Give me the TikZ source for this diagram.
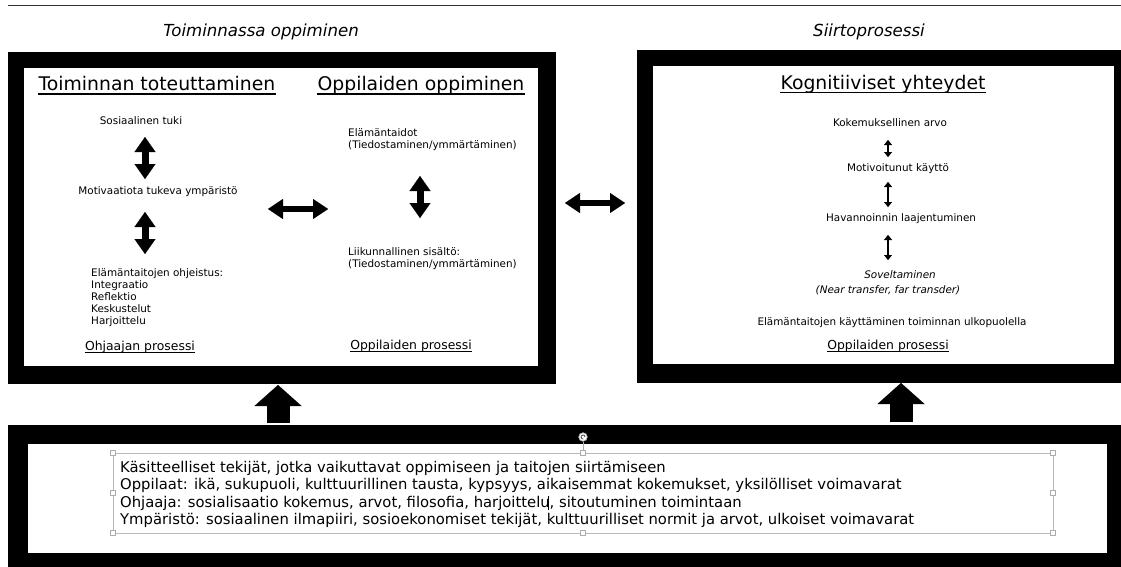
\documentclass[tikz,border=0pt]{standalone}
\usepackage{fontspec}
\setmainfont{DejaVu Sans}
\usetikzlibrary{arrows.meta}
\begin{document}
\begin{tikzpicture}[x=1pt,y=-1pt,
  outerbox/.style={fill=black,inner sep=0,outer sep=0,anchor=north west},
  innerbox/.style={fill=white,inner sep=0,outer sep=0,anchor=north west},
  hd/.style={font=\fontsize{18.8}{22}\selectfont,inner sep=0,anchor=base},
  smalltxt/.style={font=\fontsize{10.4}{12.2}\selectfont,inner sep=0},
  proctxt/.style={font=\fontsize{12.4}{15}\selectfont,inner sep=0,anchor=base},
  ttl/.style={font=\fontsize{16.6}{20}\selectfont\itshape,inner sep=0,anchor=base},
  bottxt/.style={font=\fontsize{14.8}{17.5}\selectfont,inner sep=0,align=left,anchor=north west},
  bigdbl/.style={line width=7pt,{Triangle[width=21pt,length=15pt,line width=0.1pt]}-{Triangle[width=21pt,length=15pt,line width=0.1pt]}},
  middbl/.style={line width=6pt,{Triangle[width=20pt,length=15pt,line width=0.1pt]}-{Triangle[width=20pt,length=15pt,line width=0.1pt]}},
  tinydbl/.style={line width=2.6pt,{Triangle[width=8pt,length=5pt,line width=0.1pt]}-{Triangle[width=8pt,length=5pt,line width=0.1pt]}},
  upblock/.style={line width=23pt,-{Triangle[width=47pt,length=21pt,line width=0.1pt]}},
  ulline/.style={line width=1.3pt},
  ullinesmall/.style={line width=0.9pt},
  handlebox/.style={draw=gray!65,fill=white,line width=0.6pt,minimum size=5pt,inner sep=0,outer sep=0},
]
\useasboundingbox (0,0) rectangle (1121,567);
\fill[white] (0,0) rectangle (1121,567);

% top rule
\draw[gray!40!black,line width=1pt] (8,6) -- (1121,6);

% titles
\node[ttl] (t1) at (261,37) {Toiminnassa oppiminen};
\node[ttl] (t2) at (869,37) {Siirtoprosessi};

% boxes
\node[outerbox,minimum width=548pt,minimum height=332pt] (Lout) at (8,52) {};
\node[innerbox,minimum width=514pt,minimum height=298pt] (Lin) at (24,68) {};
\node[outerbox,minimum width=500pt,minimum height=333pt] (Rout) at (637,50) {};
\node[innerbox,minimum width=461pt,minimum height=298pt] (Rin) at (653,66) {};
\node[outerbox,minimum width=1130pt,minimum height=160pt] (Bout) at (8,425) {};
\node[innerbox,minimum width=1079pt,minimum height=109pt] (Bin) at (28,444) {};

% headings
\node[hd] (h1) at (157,91) {Toiminnan toteuttaminen};
\node[hd] (h2) at (421,91) {Oppilaiden oppiminen};
\node[hd] (h3) at (883,89.5) {Kognitiiviset yhteydet};
\draw[ulline] ([yshift=-3pt]h1.base west) -- ([yshift=-3pt]h1.base east);
\draw[ulline] ([yshift=-3pt]h2.base west) -- ([yshift=-3pt]h2.base east);
\draw[ulline] ([yshift=-3pt]h3.base west) -- ([yshift=-3pt]h3.base east);

% left column
\node[smalltxt,anchor=base] (s1) at (141,124.5) {Sosiaalinen tuki};
\node[smalltxt,anchor=base] (s2) at (158,194) {Motivaatiota tukeva ympäristö};
\node[smalltxt,anchor=north west,align=left] (s3) at (91,268) {Elämäntaitojen ohjeistus:\\Integraatio\\Reflektio\\Keskustelut\\Harjoittelu};
\node[proctxt] (p1) at (140,350) {Ohjaajan prosessi};
\draw[ullinesmall] ([yshift=-2.5pt]p1.base west) -- ([yshift=-2.5pt]p1.base east);

% middle column
\node[smalltxt,anchor=north west,align=left] (m1) at (348,128) {Elämäntaidot\\(Tiedostaminen/ymmärtäminen)};
\node[smalltxt,anchor=north west,align=left] (m2) at (348,247) {Liikunnallinen sisältö:\\(Tiedostaminen/ymmärtäminen)};
\node[proctxt] (p2) at (411,349) {Oppilaiden prosessi};
\draw[ullinesmall] ([yshift=-2.5pt]p2.base west) -- ([yshift=-2.5pt]p2.base east);

% right column
\node[smalltxt,anchor=base] (k1) at (890,126.5) {Kokemuksellinen arvo};
\node[smalltxt,anchor=base] (k2) at (898,171.5) {Motivoitunut käyttö};
\node[smalltxt,anchor=base] (k3) at (901,221.5) {Havannoinnin laajentuminen};
\node[smalltxt,anchor=base,font=\fontsize{10.4}{12.2}\selectfont\itshape] (k4) at (900,278.5) {Soveltaminen};
\node[smalltxt,anchor=base,font=\fontsize{10.4}{12.2}\selectfont\itshape] (k5) at (888,293.5) {(Near transfer, far transder)};
\node[smalltxt,anchor=base] (k6) at (892,325.5) {Elämäntaitojen käyttäminen toiminnan ulkopuolella};
\node[proctxt] (p3) at (888,349) {Oppilaiden prosessi};
\draw[ullinesmall] ([yshift=-2.5pt]p3.base west) -- ([yshift=-2.5pt]p3.base east);

% arrow end points
\coordinate (a1s) at (145,137); \coordinate (a1e) at (145,179);
\coordinate (a2s) at (145,212); \coordinate (a2e) at (145,254);
\coordinate (a3s) at (420,176); \coordinate (a3e) at (420,218);
\coordinate (ah1s) at (268,209); \coordinate (ah1e) at (328,209);
\coordinate (ah2s) at (565,203); \coordinate (ah2e) at (625,203);
\coordinate (r1s) at (888,140); \coordinate (r1e) at (888,157);
\coordinate (r2s) at (888,182); \coordinate (r2e) at (888,207);
\coordinate (r3s) at (888,235); \coordinate (r3e) at (888,260);
\coordinate (u1s) at (278,423); \coordinate (u1e) at (278,385);
\coordinate (u2s) at (901,422); \coordinate (u2e) at (901,383);

\draw[bigdbl] (a1s) -- (a1e);
\draw[bigdbl] (a2s) -- (a2e);
\draw[bigdbl] (a3s) -- (a3e);
\draw[middbl] (ah1s) -- (ah1e);
\draw[middbl] (ah2s) -- (ah2e);
\draw[tinydbl] (r1s) -- (r1e);
\draw[tinydbl] (r2s) -- (r2e);
\draw[tinydbl] (r3s) -- (r3e);
\draw[upblock] (u1s) -- (u1e);
\draw[upblock] (u2s) -- (u2e);

% bottom text frame
\node[draw=gray!55,line width=0.9pt,minimum width=940pt,minimum height=80pt,inner sep=0,outer sep=0,anchor=north west] (frame) at (113,453) {};
\node[bottxt] (btxt) at (120,461) {Käsitteelliset tekijät, jotka vaikuttavat oppimiseen ja taitojen siirtämiseen\\
Oppilaat: ikä, sukupuoli, kulttuurillinen tausta, kypsyys, aikaisemmat kokemukset, yksilölliset voimavarat\\
Ohjaaja: sosialisaatio kokemus, arvot, filosofia, harjoittelu\kern-1.5pt\rule[-3pt]{0.8pt}{14pt}\kern0.7pt, sitoutuminen toimintaan\\
Ympäristö: sosiaalinen ilmapiiri, sosioekonomiset tekijät, kulttuurilliset normit ja arvot, ulkoiset voimavarat};
\node[circle,draw=gray!60,fill=white,line width=0.7pt,minimum size=8.5pt,inner sep=0] (rot) at (583,437) {};
\draw[gray!65,line width=0.7pt] (rot.south) -- (frame.north);
\draw[gray!40!black,line width=0.7pt] (rot.center) ++(2pt,0) arc[start angle=0,end angle=280,radius=2pt];
\foreach \a in {north west,north,north east,west,east,south west,south,south east}
  \node[handlebox] at (frame.\a) {};
\end{tikzpicture}
\end{document}
